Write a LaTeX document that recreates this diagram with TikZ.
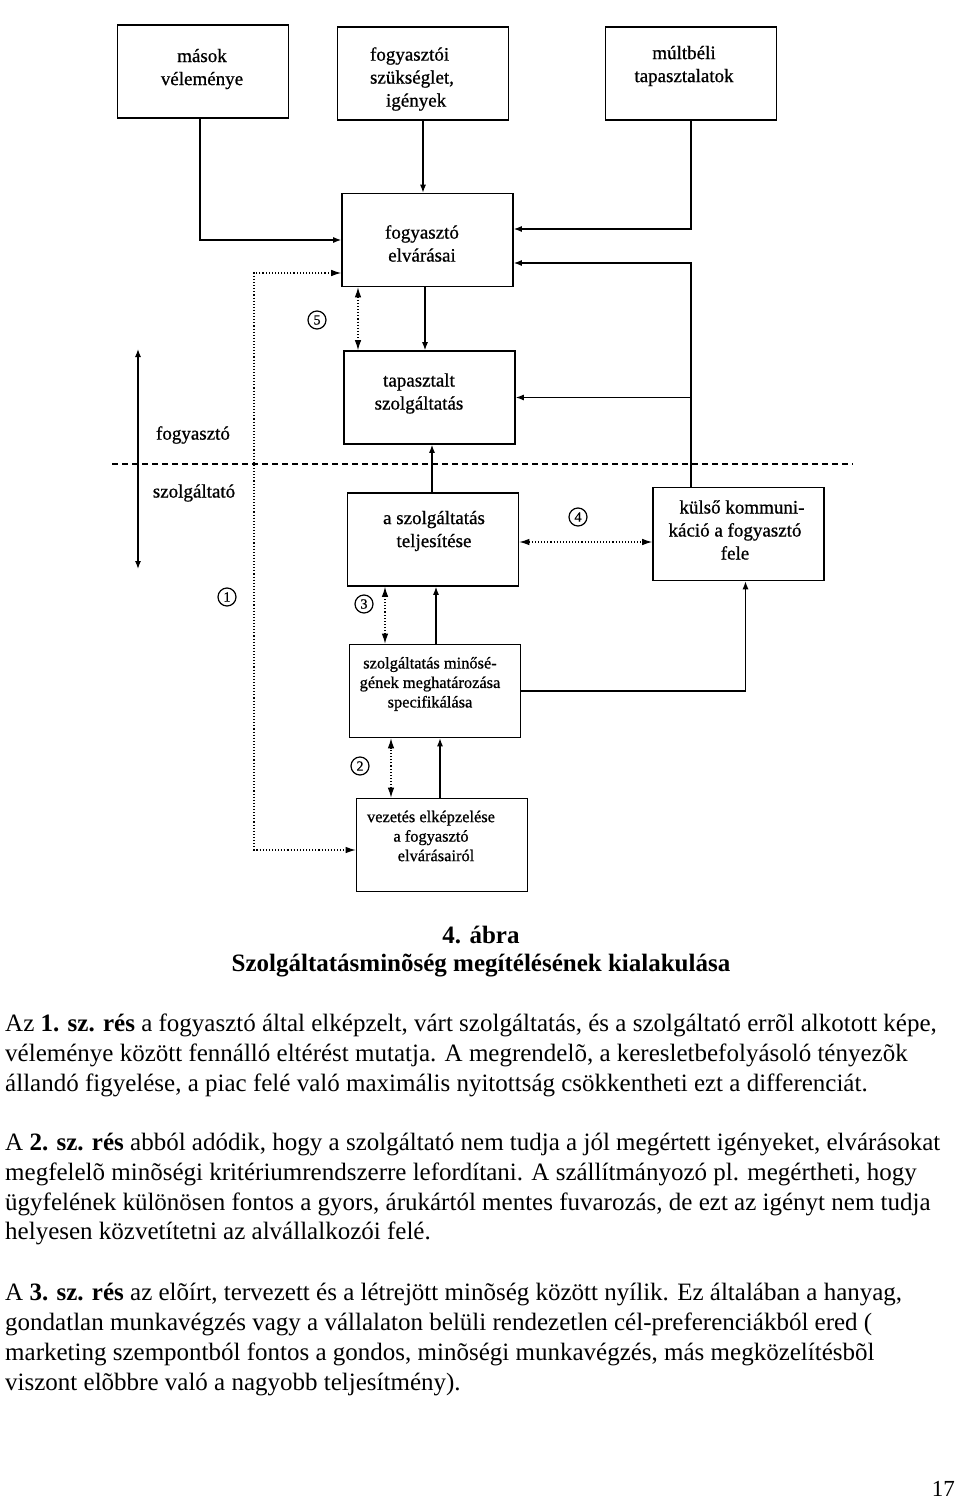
\documentclass[tikz,border=0pt]{standalone}
\usepackage{fontspec}
\setmainfont{Liberation Serif}
\newfontfamily\diagfont{Liberation Serif}[FakeBold=0.8]
\usetikzlibrary{arrows.meta,calc}
\begin{document}
\begin{tikzpicture}[x=1pt,y=-1pt,
  box/.style={draw,line width=1.6pt,minimum width=171pt,minimum height=93pt,inner sep=0pt},
  lbl/.style={align=center,font=\diagfont\fontsize{19}{23}\selectfont,inner sep=0pt},
  lbls/.style={align=center,font=\diagfont\fontsize{16.4}{19.5}\selectfont,inner sep=0pt},
  conn/.style={line width=1.2pt,-{Latex[length=8pt,width=6pt]}},
  dconn/.style={line width=1.1pt,dotted,{Latex[length=10pt,width=6.5pt]}-{Latex[length=10pt,width=6.5pt]}},
  dbl/.style={line width=1.2pt,{Latex[length=8pt,width=6pt]}-{Latex[length=8pt,width=6pt]}},
  num/.style={circle,draw,line width=1.2pt,minimum size=18pt,inner sep=0pt,font=\diagfont\fontsize{14}{14}\selectfont},
  body/.style={anchor=base west,inner sep=0pt,font=\fontsize{25}{25}\selectfont},
  capt/.style={anchor=base,inner sep=0pt,font=\fontsize{25}{25}\selectfont\bfseries},
]
\useasboundingbox (0,0) rectangle (960,1501);

% boxes
\node[box] (mas)  at (203,71.5) {};
\node[box] (fsz)  at (423,73.5) {};
\node[box] (mult) at (691,73.5) {};
\node[box] (elv)  at (427.5,240) {};
\node[box] (tap)  at (429.5,397.5) {};
\node[box] (telj) at (433,539.5) {};
\node[box] (kul)  at (738.5,534) {};
\node[box] (min)  at (435,691) {};
\node[box] (vez)  at (442,845) {};

% box texts
\node[lbl] (tmas)  at (202,69) {mások\\véleménye};
\node[lbl,align=left] (tfsz) at (412,79) {fogyasztói\\szükséglet,\\\hspace*{16pt}igények};
\node[lbl] (tmult) at (684,66) {múltbéli\\tapasztalatok};
\node[lbl] (telv)  at (422,243.5) {fogyasztó\\elvárásai};
\node[lbl] (ttap)  at (419,393.5) {tapasztalt\\szolgáltatás};
\node[lbl] (ttelj) at (434,531) {a szolgáltatás\\teljesítése};
\node[lbl] (tkul)  at (735,530) {\hspace*{14pt}külső kommuni-\\káció a fogyasztó\\fele};
\node[lbls] (tmin) at (430,684) {szolgáltatás minősé-\\gének meghatározása\\specifikálása};
\node[lbls] (tvez) at (431,836) {vezetés elképzelése\\a fogyasztó\\\hspace*{10pt}elvárásairól};

% side labels
\node[lbl] (lfogy) at (193,435) {fogyasztó};
\node[lbl] (lszolg) at (194,493) {szolgáltató};
\coordinate (la) at (138,349);
\coordinate (lb) at (138,569);
\draw[dbl] (la) -- (lb);

% dashed separator
\coordinate (d1) at (112,464);
\coordinate (d2) at (853,464);
\draw[line width=1.5pt,dash pattern=on 6pt off 4pt] (d1) -- (d2);

% solid connectors
\draw[conn] ([xshift=-3pt]mas.south) |- (elv.west);
\draw[conn] (fsz.south) -- (fsz.south |- elv.north);
\draw[conn] (mult.south) |- ([yshift=11pt]elv.east);
\draw[conn] (kul.north -| mult.south) |- ([yshift=-23pt]elv.east);
\draw[conn] (kul.north -| mult.south) |- (tap.east);
\draw[conn] ([xshift=-2.5pt]elv.south) -- ([xshift=-2.5pt]elv.south |- tap.north);
\draw[conn] ([xshift=-1pt]telj.north) -- ([xshift=-1pt]telj.north |- tap.south);
\draw[conn] ([xshift=1pt]min.north) -- ([xshift=1pt]min.north |- telj.south);
\draw[conn] (min.east) -| ([xshift=7pt]kul.south);
\draw[conn] ([xshift=-2pt]vez.north) -- ([xshift=-2pt]vez.north |- min.south);

% dotted gap connectors
\coordinate (g1) at (254,560);
\draw[dconn] ([yshift=-33pt]elv.west) -| (g1) |- ([yshift=-5pt]vez.west);
\draw[dconn] ([xshift=-69.5pt]elv.south) -- ([xshift=-69.5pt]elv.south |- tap.north);
\draw[dconn] ([yshift=-2.5pt]telj.east) -- ([yshift=-2.5pt]telj.east -| kul.west);
\draw[dconn] ([xshift=-50pt]min.north) -- ([xshift=-50pt]min.north |- telj.south);
\draw[dconn] ([xshift=-51pt]vez.north) -- ([xshift=-51pt]vez.north |- min.south);

% gap numbers
\node[num] (n5) at (317,320) {5};
\node[num] (n1) at (227,597) {1};
\node[num] (n3) at (364,604) {3};
\node[num] (n4) at (578,517) {4};
\node[num] (n2) at (360,766) {2};

% caption
\node[capt] (c1) at (481,943) {4. ábra};
\node[capt] (c2) at (481,971) {Szolgáltatásminõség megítélésének kialakulása};

% body text
\node[body] (p1a) at (5,1031) {Az \textbf{1. sz. rés} a fogyasztó által elképzelt, várt szolgáltatás, és a szolgáltató errõl alkotott képe,};
\node[body] (p1b) at (5,1061) {véleménye között fennálló eltérést mutatja. A megrendelõ, a keresletbefolyásoló tényezõk};
\node[body] (p1c) at (5,1091) {állandó figyelése, a piac felé való maximális nyitottság csökkentheti ezt a differenciát.};
\node[body] (p2a) at (5,1150) {A \textbf{2. sz. rés} abból adódik, hogy a szolgáltató nem tudja a jól megértett igényeket, elvárásokat};
\node[body] (p2b) at (5,1180) {megfelelõ minõségi kritériumrendszerre lefordítani. A szállítmányozó pl. megértheti, hogy};
\node[body] (p2c) at (5,1210) {ügyfelének különösen fontos a gyors, árukártól mentes fuvarozás, de ezt az igényt nem tudja};
\node[body] (p2d) at (5,1239) {helyesen közvetítetni az alvállalkozói felé.};
\node[body] (p3a) at (5,1300) {A \textbf{3. sz. rés} az elõírt, tervezett és a létrejött minõség között nyílik. Ez általában a hanyag,};
\node[body] (p3b) at (5,1330) {gondatlan munkavégzés vagy a vállalaton belüli rendezetlen cél-preferenciákból ered (};
\node[body] (p3c) at (5,1360) {marketing szempontból fontos a gondos, minõségi munkavégzés, más megközelítésbõl};
\node[body] (p3d) at (5,1390) {viszont elõbbre való a nagyobb teljesítmény).};

\node[anchor=base east,inner sep=0pt,font=\fontsize{23}{23}\selectfont] (pg) at (955,1496) {17};
\end{tikzpicture}
\end{document}
